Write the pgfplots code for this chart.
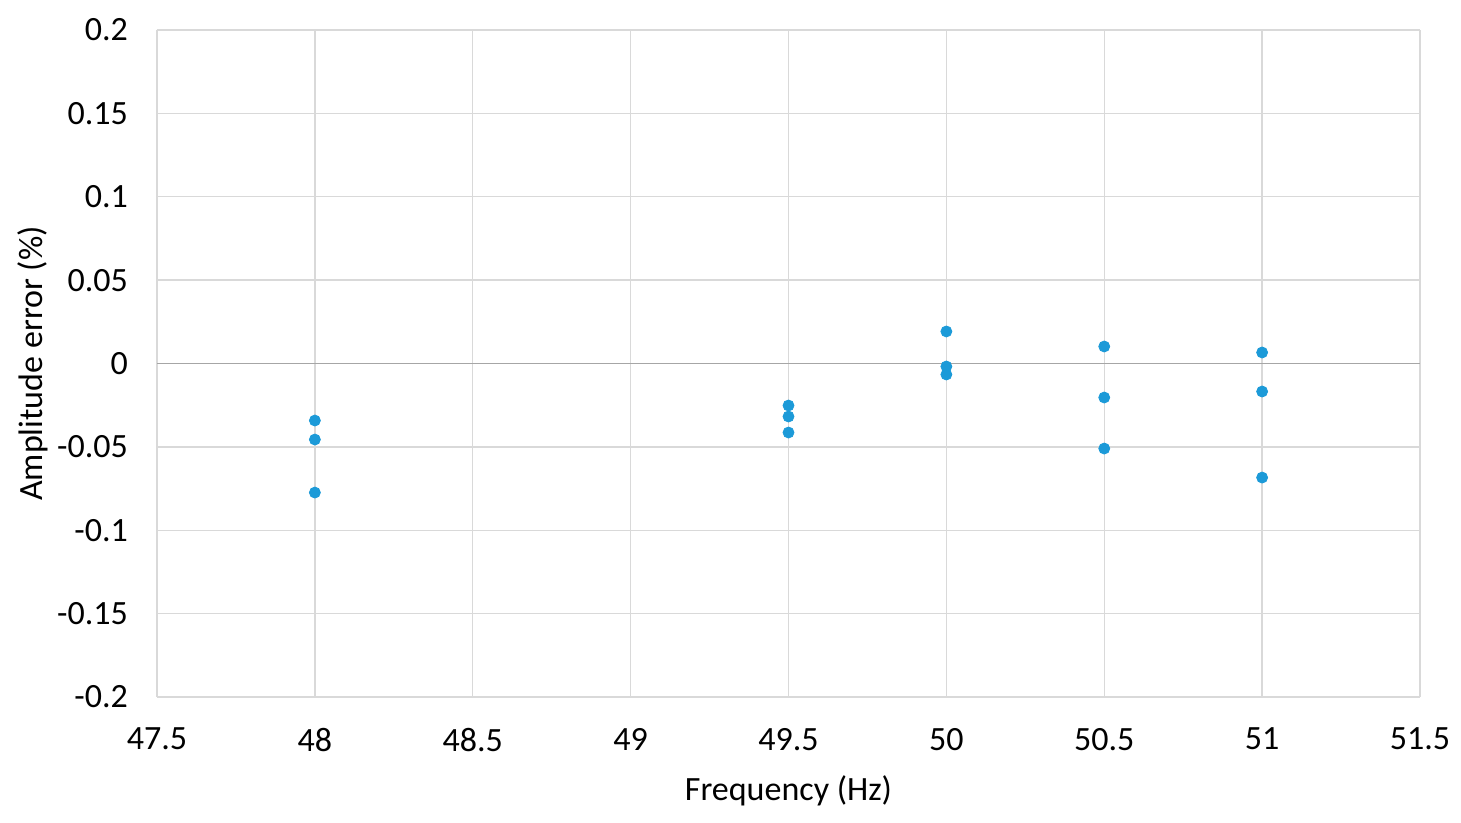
\documentclass[border=0pt]{standalone}
\usepackage{pgfplots}
\pgfplotsset{compat=1.18}
\usepackage{fontspec}
\setmainfont{Carlito}
\usetikzlibrary{calc}
\definecolor{ptblue}{HTML}{1C9AD8}
\definecolor{gridgray}{HTML}{D9D9D9}
\definecolor{zerogray}{HTML}{A6A6A6}
\begin{document}
\begin{tikzpicture}
\begin{axis}[
  scale only axis,
  width=631.5pt, height=333.5pt,
  xmin=47.5, xmax=51.5, ymin=-0.2, ymax=0.2,
  xtick={47.5,48,...,51.5},
  ytick={-0.2,-0.15,...,0.2},
  xticklabels={47.5,48,48.5,49,49.5,50,50.5,51,51.5},
  yticklabels={-0.2,-0.15,-0.1,-0.05,0,0.05,0.1,0.15,0.2},
  axis line style={draw=none},
  major tick length=0pt,
  grid=major,
  major grid style={draw=gridgray, line width=0.7pt},
  tick label style={font=\fontsize{17}{20}\selectfont, text=black},
  xticklabel style={yshift=-12pt},
  yticklabel style={xshift=-11pt},
  xlabel={Frequency (Hz)},
  ylabel={Amplitude error (\%)},
  label style={font=\fontsize{17}{20}\selectfont},
  xlabel style={yshift=-5pt},
  ylabel style={yshift=-2pt},
  clip=false,
]
\draw[zerogray, line width=0.7pt] (axis cs:47.5,0) -- (axis cs:51.5,0);
\addplot[only marks, mark=*, mark size=2.75pt, color=ptblue, mark options={draw=ptblue, fill=ptblue}] coordinates {
  (48,-0.0342) (48,-0.0456) (48,-0.0774)
  (49.5,-0.0252) (49.5,-0.0318) (49.5,-0.0414)
  (50,0.0192) (50,-0.0018) (50,-0.0066)
  (50.5,0.0102) (50.5,-0.0204) (50.5,-0.0510)
  (51,0.0066) (51,-0.0168) (51,-0.0684)
};
\end{axis}
\pgfresetboundingbox
\path ($(current axis.south west)+(-78.5pt,-63pt)$) rectangle ($(current axis.north east)+(20.5pt,15pt)$);
\end{tikzpicture}
\end{document}
